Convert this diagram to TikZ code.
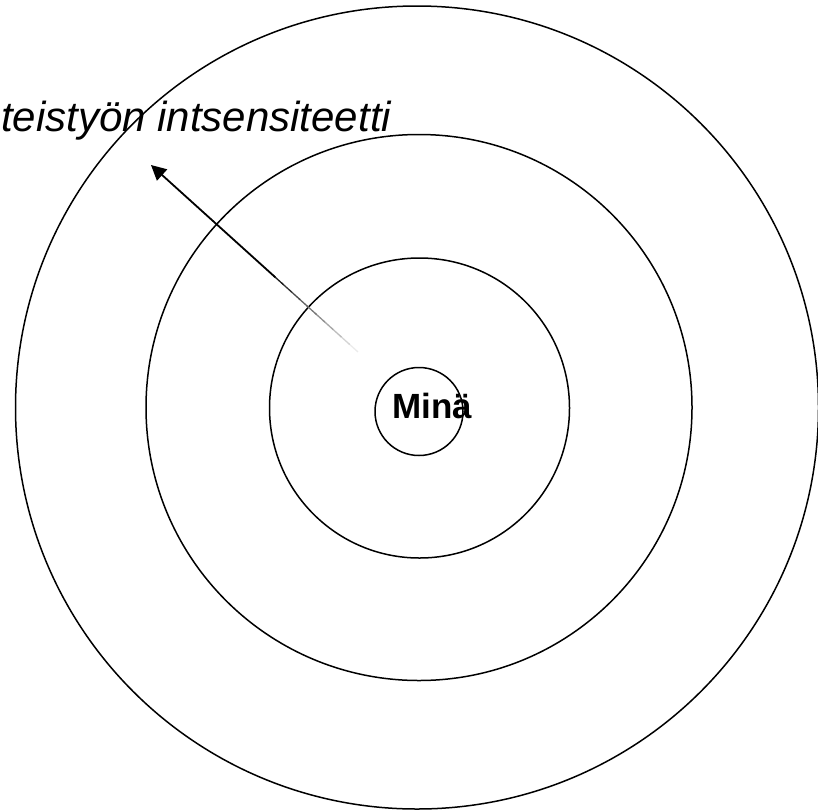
\documentclass[tikz,border=0pt]{standalone}
\usepackage{fontspec}
\setmainfont{Liberation Sans}
\usetikzlibrary{arrows.meta, calc}
\tikzstyle{ring} = [line width=1.5pt]
\tikzstyle{arrow} = [line width=1.8pt,-{Triangle[length=15pt,width=15pt]}]

\begin{document}
\begin{tikzpicture}[x=1pt,y=-1pt]
  \useasboundingbox (0,0) rectangle (818,811);

  % Rings round the centre
  \draw[ring] (417,407.5) circle (401.5);
  \draw[ring] (419,407.5) circle (273);
  \draw[ring] (419.5,408) circle (150);
  \draw[ring] (419,411.5) circle (44);

  % Labels
  \node[font=\fontsize{35}{42}\selectfont\bfseries, anchor=base, inner sep=0] (mina) at (432,418) {Minä};
  \node[font=\fontsize{42}{50}\selectfont\itshape, anchor=base west, inner sep=0] (intensity) at (1,131) {teistyön intsensiteetti};

  % Arrow, fading out towards the centre
  \coordinate (start) at (358,352);
  \coordinate (tip) at (151,165);
  \foreach \i [evaluate=\i as \tone using 8+9*\i] in {0,...,9}
    \draw[line width=1.3pt, draw=black!\tone] ($(start)!{\i/25}!(tip)$) -- ($(start)!{(\i+1.2)/25}!(tip)$);
  \draw[arrow] ($(start)!0.4!(tip)$) -- (tip);
\end{tikzpicture}
\end{document}
